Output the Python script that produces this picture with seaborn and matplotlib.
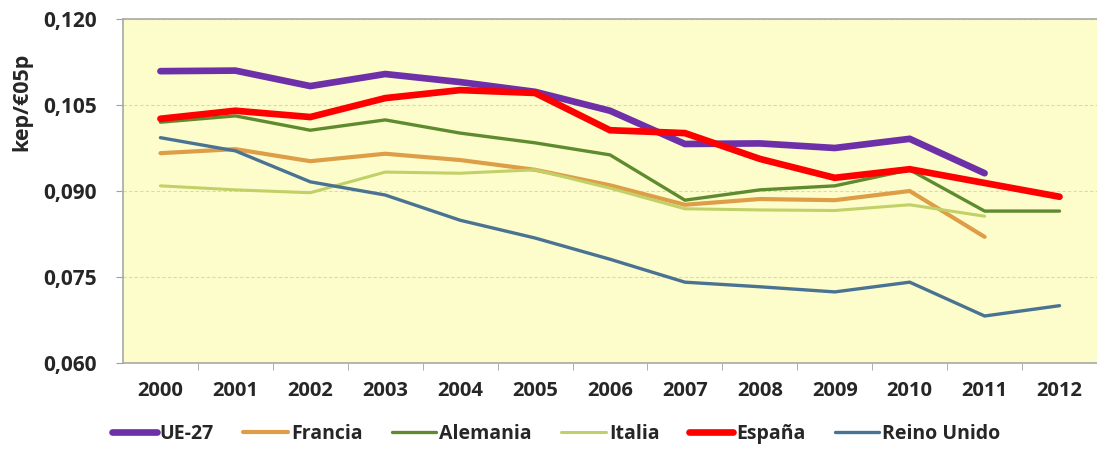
import numpy as np
import pandas as pd
import matplotlib
matplotlib.use("Agg")
import matplotlib.pyplot as plt
import seaborn as sns
from matplotlib.ticker import FuncFormatter, FixedLocator

years = [str(y) for y in range(2000, 2013)]

ue27 = [0.1109, 0.1110, 0.1083, 0.1104, 0.1090, 0.1073, 0.1040, 0.0982, 0.0983, 0.0975, 0.0991, 0.0931, np.nan]
francia = [0.0966, 0.0973, 0.0952, 0.0965, 0.0954, 0.0937, 0.0910, 0.0876, 0.0886, 0.0884, 0.0900, 0.0820, np.nan]
alemania = [0.1020, 0.1031, 0.1006, 0.1024, 0.1001, 0.0984, 0.0963, 0.0884, 0.0902, 0.0909, 0.0937, 0.0865, 0.0865]
italia = [0.0909, 0.0902, 0.0897, 0.0933, 0.0931, 0.0937, 0.0905, 0.0869, 0.0867, 0.0866, 0.0876, 0.0856, np.nan]
espana = [0.1026, 0.1040, 0.1029, 0.1062, 0.1076, 0.1071, 0.1006, 0.1001, 0.0956, 0.0923, 0.0938, 0.0914, 0.0890]
reino_unido = [0.0993, 0.0970, 0.0916, 0.0893, 0.0849, 0.0818, 0.0781, 0.0741, 0.0733, 0.0724, 0.0741, 0.0682, 0.0700]

series = {
    "UE-27": ue27,
    "Francia": francia,
    "Alemania": alemania,
    "Italia": italia,
    "España": espana,
    "Reino Unido": reino_unido,
}
colors = {
    "UE-27": "#6E30A8",
    "Francia": "#DE9E48",
    "Alemania": "#5F8B2F",
    "Italia": "#C2D068",
    "España": "#FF0000",
    "Reino Unido": "#4A7292",
}
widths = {
    "UE-27": 4.8,
    "Francia": 3.0,
    "Alemania": 2.4,
    "Italia": 2.2,
    "España": 4.8,
    "Reino Unido": 2.4,
}

rows = []
for name, vals in series.items():
    for i, v in enumerate(vals):
        rows.append({"pos": i, "serie": name, "valor": v})
df = pd.DataFrame(rows).dropna()

sns.set_style("white")
plt.rcParams["font.family"] = ["Open Sans", "DejaVu Sans"]

fig = plt.figure(figsize=(10.97, 4.49), dpi=100)
ax = fig.add_axes([0.1121, 0.1915, 0.8879, 0.7662])
ax.set_facecolor("#FDFDCB")

for name in series:
    sub = df[df["serie"] == name]
    sns.lineplot(data=sub, x="pos", y="valor", ax=ax, color=colors[name],
                 linewidth=widths[name], label=name, solid_capstyle="round",
                 solid_joinstyle="miter")

ax.set_xlim(-0.5, len(years) - 0.5)
ax.set_ylim(0.060, 0.120)
ax.set_yticks(np.arange(0.060, 0.1201, 0.015))
ax.yaxis.set_major_formatter(FuncFormatter(lambda v, p: f"{v:.3f}".replace(".", ",")))
ax.set_xticks(range(len(years)))
ax.set_xticklabels(years)
ax.xaxis.set_minor_locator(FixedLocator(np.arange(0.5, len(years) - 1, 1.0)))
ax.tick_params(axis="x", which="major", length=0, pad=13, labelsize=14.5)
ax.tick_params(axis="x", which="minor", length=5, color="#A0A0A0", direction="out", bottom=True)
ax.tick_params(axis="y", length=5, color="#A0A0A0", direction="out", left=True, labelsize=15, pad=14)
for lab in ax.get_xticklabels() + ax.get_yticklabels():
    lab.set_fontweight("bold")

ax.grid(axis="y", color="#D8D8C0", linewidth=0.8, linestyle=(0, (3, 2)))
ax.set_axisbelow(True)
for s in ["left", "bottom", "top"]:
    ax.spines[s].set_color("#A8A8A8")
    ax.spines[s].set_linewidth(1.2)
ax.spines["right"].set_visible(False)

ax.set_xlabel("")
ax.set_ylabel("kep/€05p", fontsize=15.5, fontweight="bold", labelpad=14)
ax.yaxis.set_label_coords(-0.093, 0.76)

leg = ax.legend(loc="upper center", bbox_to_anchor=(0.445, -0.125), ncol=6, frameon=False,
                handlelength=2.3, handletextpad=0.15, columnspacing=1.5,
                prop={"weight": "bold", "size": 14})

fig.savefig("out.png", dpi=100)
